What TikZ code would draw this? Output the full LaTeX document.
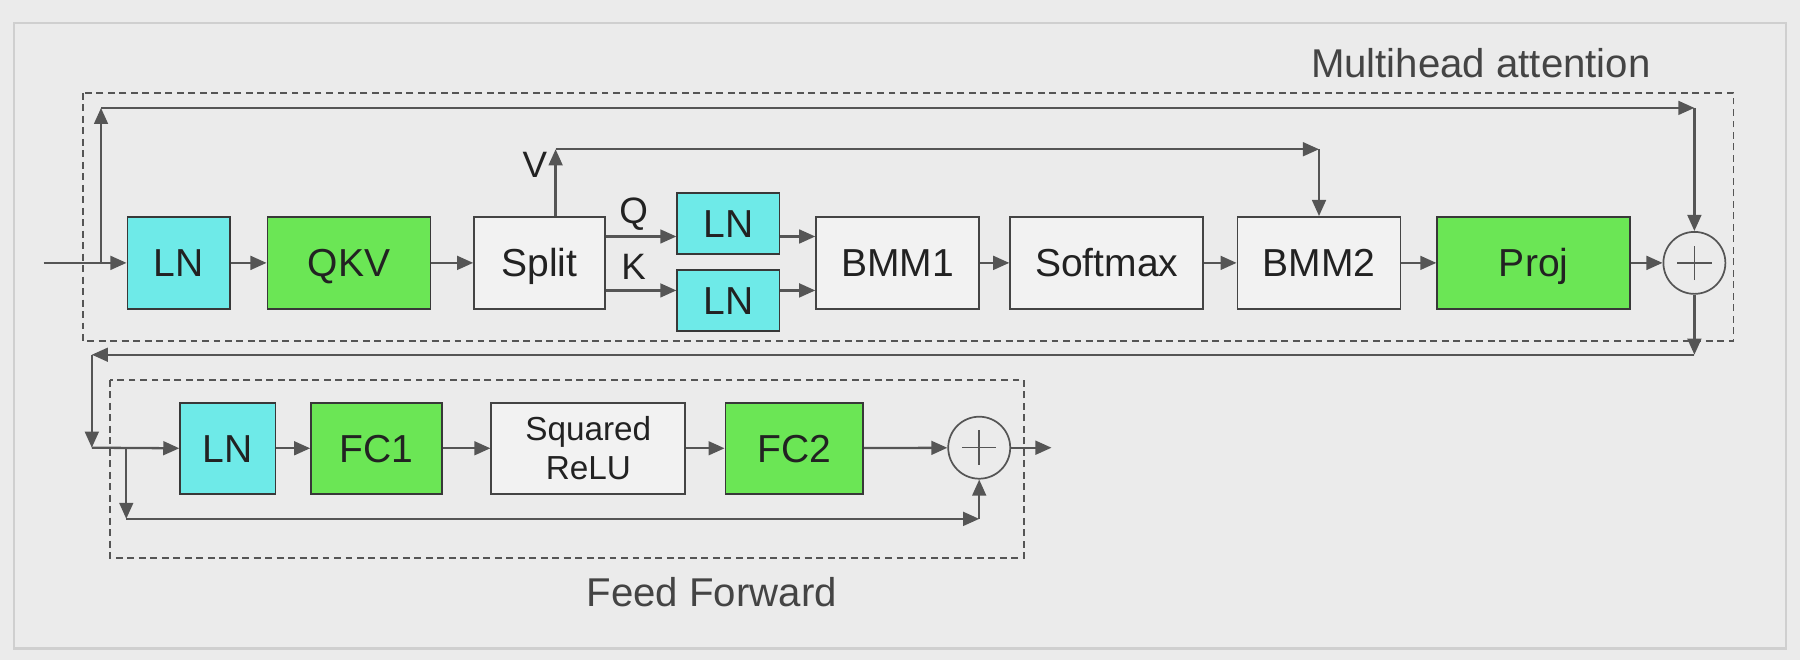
\documentclass[tikz,border=0pt]{standalone}
\usepackage{fontspec}
\setmainfont{Liberation Sans}
\usetikzlibrary{arrows.meta,calc}
\definecolor{bgc}{HTML}{EBEBEB}
\definecolor{framec}{HTML}{CFCFCF}
\definecolor{linec}{HTML}{555555}
\definecolor{cyanc}{HTML}{6EEAE8}
\definecolor{greenc}{HTML}{6BE655}
\definecolor{whitec}{HTML}{F2F2F2}
\definecolor{txtc}{HTML}{222222}
\definecolor{lblc}{HTML}{444444}
\tikzset{
  base/.style={draw=txtc!90, line width=1.6pt, text=txtc, minimum height=80pt, inner sep=0pt},
  blk/.style={base, font=\fontsize{34}{40}\selectfont, text height=24.4pt, text depth=0pt},
  lnbox/.style={blk, fill=cyanc, minimum width=89pt},
  grbox/.style={blk, fill=greenc},
  wtbox/.style={blk, fill=whitec, draw=linec!80!black},
  arr/.style={draw=linec, line width=2pt, -{Triangle[length=14pt,width=12pt]}},
  grp/.style={draw=linec, line width=1.6pt, dash pattern=on 6pt off 4pt},
  plusc/.style={circle, draw=linec, line width=1.5pt, fill=bgc, minimum size=54pt, inner sep=0pt,
    path picture={\draw[linec, line width=1.3pt] ($(path picture bounding box.center)+(-15pt,0)$) -- ($(path picture bounding box.center)+(15pt,0)$)
      ($(path picture bounding box.center)+(0,-15pt)$) -- ($(path picture bounding box.center)+(0,15pt)$);}},
  lbl/.style={text=lblc, font=\fontsize{35}{40}\selectfont, inner sep=0pt},
  qkv/.style={text=txtc, font=\fontsize{32}{38}\selectfont, inner sep=0pt, text height=23pt, text depth=0pt}
}
\begin{document}
\begin{tikzpicture}[x=1pt,y=-1pt]
\fill[bgc] (0,0) rectangle (1568,575);
\useasboundingbox (0,0) rectangle (1568,575);
\draw[framec, line width=2pt] (12,20) rectangle (1556,565);

% group boxes
\draw[grp] (72,81) rectangle (1510,297);
\draw[grp] (96,331) rectangle (892,486);
\node[lbl, anchor=east] (mhl) at (1438,55) {Multihead attention};
\node[lbl] (ffl) at (620,516) {Feed Forward};

% attention row
\node[lnbox] (LN1) at (155.5,229) {LN};
\node[grbox, minimum width=142pt] (QKV) at (304,229) {QKV};
\node[wtbox, minimum width=114pt] (Split) at (470,229) {Split};
\node[lnbox, minimum height=53pt] (LNQ) at (634.5,194.5) {LN};
\node[lnbox, minimum height=53pt] (LNK) at (634.5,261.5) {LN};
\node[wtbox, minimum width=142pt] (BMM1) at (782,229) {BMM1};
\node[wtbox, minimum width=168pt] (Soft) at (964,229) {Softmax};
\node[wtbox, minimum width=142pt] (BMM2) at (1149,229) {BMM2};
\node[grbox, minimum width=168pt] (Proj) at (1336,229) {Proj};
\node[plusc] (P1) at (1476,229) {};

% feed forward row
\node[lnbox, minimum width=83pt, minimum height=79pt] (LN2) at (198.5,390.5) {LN};
\node[grbox, minimum width=114pt, minimum height=79pt] (FC1) at (328,390.5) {FC1};
\node[base, fill=whitec, draw=linec!80!black, minimum width=169pt, minimum height=79pt, align=center, font=\fontsize{29}{34}\selectfont] (SQ) at (512.5,390.5) {Squared\\ReLU};
\node[grbox, minimum width=120pt, minimum height=79pt] (FC2) at (692,390.5) {FC2};
\node[plusc] (P2) at (853,390) {};

% coordinates
\coordinate (in0) at (38,229);
\coordinate (j1) at (88,229);
\coordinate (t1) at (88,94);
\coordinate (t2) at (1476,94);
\coordinate (v0) at (484,130);
\coordinate (v1) at (1149,130);
\coordinate (qy) at (0,206);
\coordinate (ky) at (0,253);
\coordinate (r1) at (1476,309);
\coordinate (r2) at (80,309);
\coordinate (r3) at (80,390);
\coordinate (b0) at (110,390);
\coordinate (b1) at (110,452);
\coordinate (b2) at (853,452);
\coordinate (out) at (916,390);

% labels
\node[qkv] (Vl) at (466,143) {V};
\node[qkv] (Ql) at (552,183) {Q};
\node[qkv] (Kl) at (552,232) {K};

% attention connectors
\draw[arr] (in0) -- (LN1.west);
\draw[arr] (j1) -- (t1);
\draw[arr] (t1) -- (t2);
\draw[arr] (t2) -- (P1.north);
\draw[arr] (LN1) -- (QKV);
\draw[arr] (QKV) -- (Split);
\draw[arr] (Split.north -| v0) -- (v0);
\draw[arr] (v0) -- (v1);
\draw[arr] (v1) -- (BMM2.north);
\draw[arr] (Split.east |- qy) -- (LNQ.west |- qy);
\draw[arr] (Split.east |- ky) -- (LNK.west |- ky);
\draw[arr] (LNQ.east |- qy) -- (BMM1.west |- qy);
\draw[arr] (LNK.east |- ky) -- (BMM1.west |- ky);
\draw[arr] (BMM1) -- (Soft);
\draw[arr] (Soft) -- (BMM2);
\draw[arr] (BMM2) -- (Proj);
\draw[arr] (Proj) -- (P1);

% residual to feed forward
\draw[arr] (P1.south) -- (r1);
\draw[arr] (r1) -- (r2);
\draw[arr] (r2) -- (r3);
\draw[arr] (r3) -- (LN2.west);
\draw[arr] (b0) -- (b1);
\draw[arr] (b1) -- (b2);
\draw[arr] (b2) -- (P2.south);

% feed forward connectors
\draw[arr] (LN2) -- (FC1);
\draw[arr] (FC1) -- (SQ);
\draw[arr] (SQ) -- (FC2);
\draw[arr] (FC2) -- (P2);
\draw[arr] (P2) -- (out);
\end{tikzpicture}
\end{document}
